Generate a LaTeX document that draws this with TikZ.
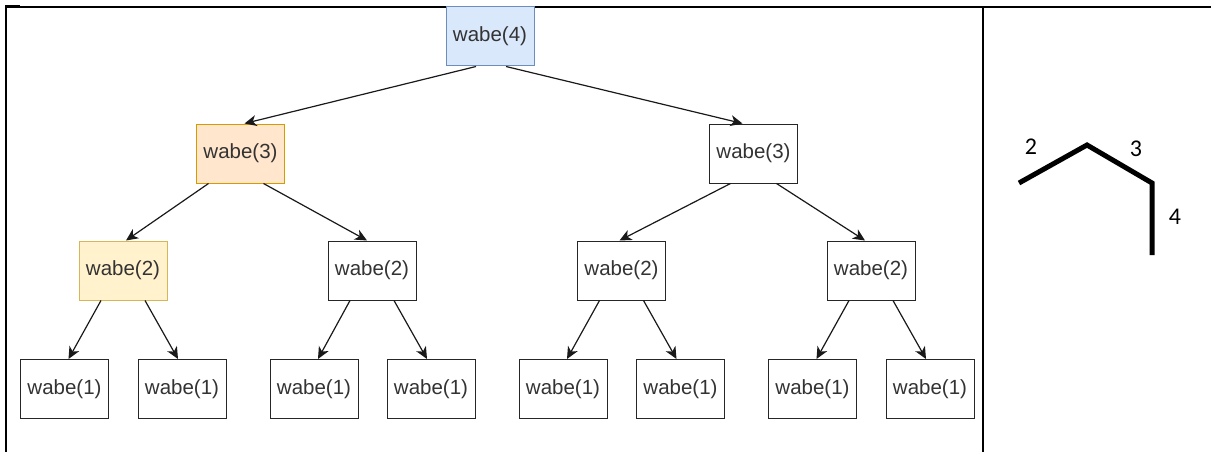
\documentclass[tikz,border=0pt]{standalone}
\usepackage{fontspec}
\setmainfont{Liberation Sans}
\newfontfamily\calfont{Carlito}
\usetikzlibrary{arrows.meta}
\definecolor{bluefill}{HTML}{DAE8FC}
\definecolor{blueline}{HTML}{6C8EBF}
\definecolor{orangefill}{HTML}{FFE6CC}
\definecolor{orangeline}{HTML}{D79B00}
\definecolor{yellowfill}{HTML}{FFF2CC}
\definecolor{yellowline}{HTML}{D6B656}
\definecolor{txtgray}{HTML}{333333}
\tikzset{
  callbox/.style={draw=black!85, line width=1pt, fill=white, rectangle,
    minimum width=88pt, minimum height=59pt, inner sep=0pt,
    text=txtgray, font=\fontsize{20.5}{24}\selectfont},
  callarrow/.style={draw=black!90, line width=1.2pt,
    -{Stealth[length=12pt,width=11pt,inset=3.5pt]}},
  tableline/.style={draw=black, line width=2pt},
  chainline/.style={draw=black, line width=5pt},
  digit/.style={font=\calfont\fontsize{24}{28}\selectfont, text=black}
}
\begin{document}
\begin{tikzpicture}[x=1pt,y=-1pt]
\useasboundingbox (0,0) rectangle (1211,452);
% table frame
\draw[draw=black, line width=1.3pt] (5,7) -- (976,7);
\draw[tableline, line width=2.5pt] (976,7) -- (1211,7);
\draw[tableline] (6,6) -- (6,452);
\draw[tableline, line width=2.5pt] (983,7) -- (983,452);
\draw[draw=black, line width=2.5pt] (5,6.5) -- (20,6.5);
% nodes
\node[callbox, fill=bluefill, draw=blueline] (w4) at (490,36.5) {wabe(4)};
\node[callbox, fill=orangefill, draw=orangeline] (w3a) at (240.5,153.5) {wabe(3)};
\node[callbox] (w3b) at (753.5,153.5) {wabe(3)};
\node[callbox, fill=yellowfill, draw=yellowline] (w2a) at (123,270.5) {wabe(2)};
\node[callbox] (w2b) at (372,270.5) {wabe(2)};
\node[callbox] (w2c) at (621.5,270.5) {wabe(2)};
\node[callbox] (w2d) at (871,270.5) {wabe(2)};
\node[callbox] (w1a) at (64.5,389) {wabe(1)};
\node[callbox] (w1b) at (182,389) {wabe(1)};
\node[callbox] (w1c) at (314,389) {wabe(1)};
\node[callbox] (w1d) at (431,389) {wabe(1)};
\node[callbox] (w1e) at (563,389) {wabe(1)};
\node[callbox] (w1f) at (680.5,389) {wabe(1)};
\node[callbox] (w1g) at (812.5,389) {wabe(1)};
\node[callbox] (w1h) at (930,389) {wabe(1)};
% edges
\draw[callarrow] ([xshift=-14pt]w4.south) -- ([xshift=4pt]w3a.north);
\draw[callarrow] ([xshift=16pt]w4.south) -- ([xshift=-11pt]w3b.north);
\draw[callarrow] ([xshift=-32pt]w3a.south) -- ([xshift=3pt]w2a.north);
\draw[callarrow] ([xshift=23pt]w3a.south) -- ([xshift=-5pt]w2b.north);
\draw[callarrow] ([xshift=-23pt]w3b.south) -- ([xshift=-2pt]w2c.north);
\draw[callarrow] ([xshift=23pt]w3b.south) -- ([xshift=-6pt]w2d.north);
\draw[callarrow] ([xshift=-22pt]w2a.south) -- ([xshift=4pt]w1a.north);
\draw[callarrow] ([xshift=22pt]w2a.south) -- ([xshift=-4pt]w1b.north);
\draw[callarrow] ([xshift=-22pt]w2b.south) -- ([xshift=4pt]w1c.north);
\draw[callarrow] ([xshift=22pt]w2b.south) -- ([xshift=-4pt]w1d.north);
\draw[callarrow] ([xshift=-22pt]w2c.south) -- ([xshift=4pt]w1e.north);
\draw[callarrow] ([xshift=22pt]w2c.south) -- ([xshift=-4pt]w1f.north);
\draw[callarrow] ([xshift=-22pt]w2d.south) -- ([xshift=4pt]w1g.north);
\draw[callarrow] ([xshift=22pt]w2d.south) -- ([xshift=-4pt]w1h.north);
% chain figure
\coordinate (c1) at (1019,183);
\coordinate (c2) at (1087,145);
\coordinate (c3) at (1152,183);
\coordinate (c4) at (1152,255);
\draw[chainline, line join=miter] (c1) -- (c2) -- (c3) -- (c4);
\node[digit] (n2) at (1031,147) {2};
\node[digit] (n3) at (1136,149) {3};
\node[digit] (n4) at (1175,217) {4};
\end{tikzpicture}
\end{document}
